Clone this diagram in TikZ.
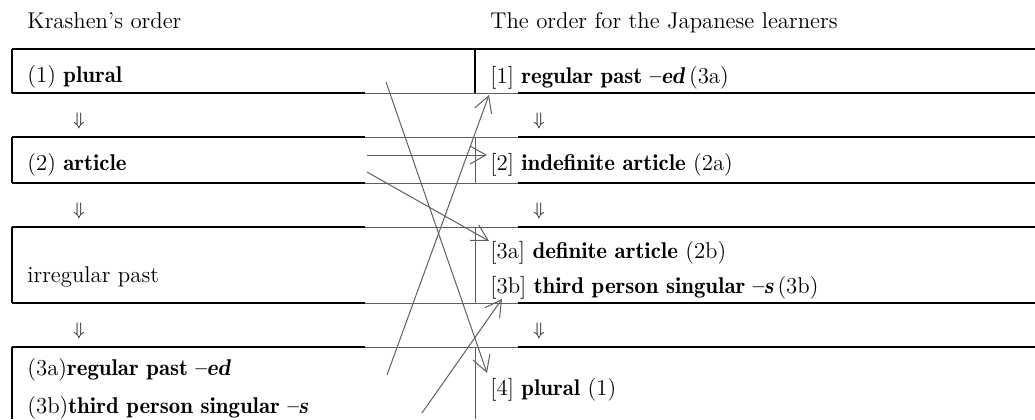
\documentclass[tikz,border=0pt]{standalone}
\usepackage{tikz}
\usepackage{xcolor}
\usetikzlibrary{arrows.meta}
\definecolor{linkgray}{RGB}{95,95,95}
\newcommand{\bd}[1]{{\fontseries{b}\selectfont #1}}

\begin{document}
\begin{tikzpicture}[x=0.5pt,y=-0.5pt,font=\fontsize{11.4}{13}\selectfont,
        txt/.style={anchor=base west,inner sep=0pt},
        rule/.style={line width=1pt},
        thinrule/.style={draw=linkgray,line width=0.5pt},
        link/.style={draw=linkgray,line width=0.5pt,-{Straight Barb[length=8pt,width=9pt]}}]
        \useasboundingbox (0,0) rectangle (1035,419);
        % rules of both columns
        \draw[rule] (12,49) -- (1035,49);
        \foreach \y in {93,137,183,227,303,347} {
            \draw[rule] (12,\y) -- (365,\y);
            \draw[thinrule] (365,\y) -- (518,\y);
            \draw[rule] (518,\y) -- (1035,\y);
        }
        \foreach \t/\b in {49/93,137/183,227/303,347/419} {
            \draw[rule] (12,\t) -- (12,\b);
        }
        \draw[rule] (475,49) -- (475,93);
        \foreach \t/\b in {137/183,227/303,347/419} {
            \draw[thinrule] (475,\t) -- (475,\b);
        }
        % headings
        \node[txt] (khead) at (27,28) {Krashen's order};
        \node[txt] (jhead) at (490,28) {The order for the Japanese learners};
        % Krashen's order
        \node[txt] (k1) at (27,82) {(1) \bd{plural}};
        \node[txt] (k2) at (27,170) {(2) \bd{article}};
        \node[txt] (k3) at (27,282) {irregular past};
        \node[txt] (k4a) at (27,375) {(3a)\bd{regular past --\textit{ed}}};
        \node[txt] (k4b) at (27,413) {(3b)\bd{third person singular --\textit{s}}};
        % order for the Japanese learners
        \node[txt] (j1) at (490,83) {[1] \bd{regular past --\textit{ed}}\,(3a)};
        \node[txt] (j2) at (490,170) {[2] \bd{indefinite article} (2a)};
        \node[txt] (j3a) at (490,258) {[3a] \bd{definite article} (2b)};
        \node[txt] (j3b) at (490,293) {[3b] \bd{third person singular --\textit{s}}\,(3b)};
        \node[txt] (j4) at (490,395) {[4] \bd{plural} (1)};
        % down arrows
        \foreach \x/\y/\n in {73/125/d1,73/215/d2,73/335/d3,533/125/e1,533/215/e2,533/335/e3} {
            \node[txt,font=\small] (\n) at (\x,\y) {\(\Downarrow\)};
        }
        % ends of the links
        \coordinate (plural-out) at (386,82);
        \coordinate (plural-in) at (487,373);
        \coordinate (past-out) at (387,375);
        \coordinate (past-in) at (489,95);
        \coordinate (indef-out) at (367,155);
        \coordinate (indef-in) at (487,155);
        \coordinate (def-out) at (367,172);
        \coordinate (def-in) at (489,241);
        \coordinate (third-out) at (422,413);
        \coordinate (third-in) at (502,299);
        \draw[link] (plural-out) -- (plural-in);
        \draw[link] (past-out) -- (past-in);
        \draw[link] (indef-out) -- (indef-in);
        \draw[link] (def-out) -- (def-in);
        \draw[link] (third-out) -- (third-in);
\end{tikzpicture}
\end{document}
